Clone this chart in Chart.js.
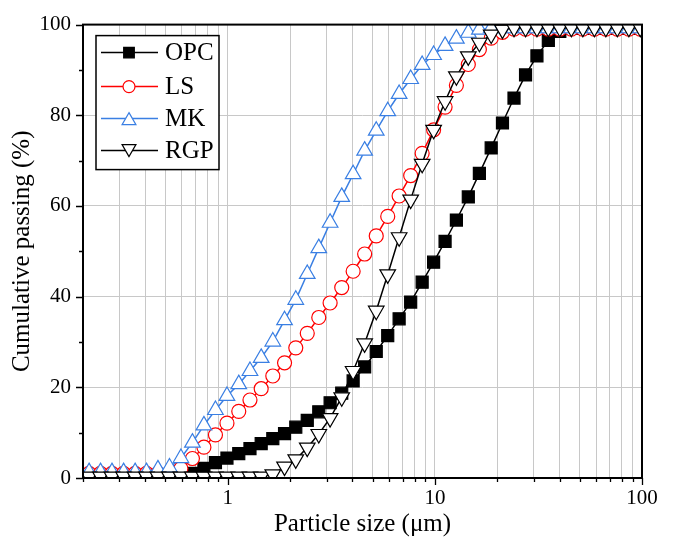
<!DOCTYPE html>
<html>
<head>
<meta charset="utf-8">
<script src="https://cdn.jsdelivr.net/npm/chart.js@4.4.1/dist/chart.umd.min.js"></script>
<style>
  body { margin: 0; background: #fff; }
  #wrap { width: 675px; height: 545px; }
</style>
</head>
<body>
<div id="wrap"><canvas id="psd" width="675" height="545"></canvas></div>
<script>
// particle size classes (um)
var sizes = [0.214, 0.243, 0.276, 0.314, 0.357, 0.405, 0.460, 0.523, 0.594, 0.675,
             0.767, 0.872, 0.991, 1.13, 1.28, 1.45, 1.65, 1.88, 2.13, 2.42,
             2.75, 3.12, 3.55, 4.03, 4.58, 5.21, 5.92, 6.72, 7.64, 8.68,
             9.86, 11.2, 12.7, 14.5, 16.4, 18.7, 21.2, 24.1, 27.4, 31.1,
             35.3, 40.1, 45.6, 51.8, 58.9, 66.9, 76.0, 86.4, 98.1];

// cumulative passing (%)
var opc = [null, null, null, null, null, null, null, null, 0.5, 1.0,
           2.1, 3.4, 4.4, 5.4, 6.5, 7.6, 8.7, 9.8, 11.2, 12.7,
           14.6, 16.6, 18.7, 21.4, 24.5, 27.9, 31.4, 35.1, 38.8, 43.2,
           47.6, 52.2, 56.9, 62.0, 67.2, 72.8, 78.3, 83.8, 88.9, 93.1,
           96.5, 98.5, 99.2, 99.2, 99.2, 99.2, 99.2, 99.2, 99.2];
var ls  = [1.0, 1.0, 1.0, 1.0, 1.0, 1.0, 1.0, 1.0, 2.1, 4.3,
           6.8, 9.5, 12.1, 14.7, 17.2, 19.7, 22.5, 25.4, 28.7, 31.9,
           35.4, 38.6, 42.0, 45.6, 49.4, 53.4, 57.7, 62.2, 66.7, 71.6,
           76.8, 81.8, 86.6, 91.2, 94.5, 97.0, 98.3, 99.0, 99.0, 99.0,
           99.0, 99.0, 99.0, 99.0, 99.0, 99.0, 99.0, 99.0, 99.0];
var mk  = [1.3, 1.3, 1.3, 1.3, 1.3, 1.3, 1.9, 2.3, 4.4, 7.8,
           11.6, 15.0, 18.1, 20.7, 23.6, 26.5, 30.1, 34.8, 39.3, 45.0,
           50.7, 56.3, 62.0, 67.0, 72.2, 76.6, 80.9, 84.7, 88.0, 91.1,
           93.3, 95.3, 96.9, 98.2, 98.9, 99.2, 99.2, 99.2, 99.2, 99.2,
           99.2, 99.2, 99.2, 99.2, 99.2, 99.2, 99.2, 99.2, 99.2];
var rgp = [0.3, 0.3, 0.3, 0.3, 0.3, 0.3, 0.3, 0.3, 0.3, 0.3,
           0.3, 0.3, 0.3, 0.3, 0.3, 0.3, 0.8, 2.5, 4.1, 6.7,
           9.7, 13.2, 17.8, 23.6, 29.7, 36.9, 44.9, 53.1, 61.4, 69.3,
           76.8, 83.1, 88.6, 93.0, 96.0, 97.8, 98.9, 99.3, 99.3, 99.3,
           99.3, 99.3, 99.3, 99.3, 99.3, 99.3, 99.3, 99.3, 99.3];

var xTicks  = [0.2, 0.3, 0.4, 0.5, 0.6, 0.7, 0.8, 0.9, 1, 2, 3, 4, 5, 6, 7, 8, 9,
               10, 20, 30, 40, 50, 60, 70, 80, 90, 100];
var xLabels = [1, 10, 100];

var serif = "'Liberation Serif', 'DejaVu Serif', serif";
var blue = '#3a7fe3';

function pts(ys) {
    return sizes.map(function(x, i) { return { x: x, y: ys[i] }; });
}

function makeSet(label, ys, color, style, radius, rot, fill, order) {
    return {
        label: label,
        data: pts(ys),
        borderColor: color,
        backgroundColor: fill,
        borderWidth: 1.5,
        pointStyle: style,
        pointRadius: radius,
        pointRotation: rot,
        pointBorderWidth: 1.2,
        pointBackgroundColor: fill,
        pointBorderColor: color,
        tension: 0,
        clip: 0,
        order: order
    };
}

var datasets = [
    makeSet('OPC', opc, '#000000', 'rect', 8.5, 0, '#000000', 4),
    makeSet('LS',  ls,  '#ff0000', 'circle', 7, 0, '#ffffff', 3),
    makeSet('MK',  mk,  blue, 'triangle', 9, 0, '#ffffff', 2),
    makeSet('RGP', rgp, '#000000', 'triangle', 9, 180, '#ffffff', 1)
];

// outward tick marks and frame
var frameTicks = {
    id: 'frameTicks',
    afterDatasetsDraw: function(chart) {
        var ctx = chart.ctx, a = chart.chartArea;
        var xs = chart.scales.x, ys = chart.scales.y;
        ctx.save();
        ctx.strokeStyle = '#000';
        ctx.lineWidth = 1.3;
        ctx.beginPath();
        xs.ticks.forEach(function(t) {
            var px = Math.round(xs.getPixelForValue(t.value)) + 0.5;
            var len = xLabels.indexOf(t.value) >= 0 ? 7 : 4;
            ctx.moveTo(px, a.bottom);
            ctx.lineTo(px, a.bottom + len);
        });
        ys.ticks.forEach(function(t) {
            var py = Math.round(ys.getPixelForValue(t.value)) + 0.5;
            var len = t.value % 20 === 0 ? 7 : 4;
            ctx.moveTo(a.left, py);
            ctx.lineTo(a.left - len, py);
        });
        ctx.stroke();
        ctx.lineWidth = 2;
        ctx.strokeRect(a.left, a.top, a.right - a.left, a.bottom - a.top);
        ctx.restore();
    }
};

// legend box with line through marker
var lineLegend = {
    id: 'lineLegend',
    afterDraw: function(chart) {
        var ctx = chart.ctx, a = chart.chartArea;
        var bx = a.left + 13, by = a.top + 11, bw = 123, bh = 134;
        var rows = [17, 51, 83, 115];
        ctx.save();
        ctx.fillStyle = '#fff';
        ctx.fillRect(bx, by, bw, bh);
        ctx.strokeStyle = '#000';
        ctx.lineWidth = 1.5;
        ctx.strokeRect(bx, by, bw, bh);
        chart.data.datasets.forEach(function(ds, i) {
            var yy = by + rows[i];
            ctx.strokeStyle = ds.borderColor;
            ctx.lineWidth = 1.5;
            ctx.beginPath();
            ctx.moveTo(bx + 5, yy);
            ctx.lineTo(bx + 62, yy);
            ctx.stroke();
            ctx.fillStyle = ds.pointBackgroundColor;
            ctx.strokeStyle = ds.pointBorderColor;
            ctx.lineWidth = 1.2;
            var off = ds.pointStyle !== 'triangle' ? 0 : (ds.pointRotation ? -2 : 2);
            Chart.helpers.drawPoint(ctx, {
                pointStyle: ds.pointStyle,
                rotation: ds.pointRotation,
                radius: ds.pointRadius - 1,
                borderWidth: 1.2
            }, bx + 33, yy + off);
            ctx.fillStyle = '#000';
            ctx.font = '25px ' + serif;
            ctx.textAlign = 'left';
            ctx.textBaseline = 'middle';
            ctx.fillText(ds.label, bx + 69, yy + 1);
        });
        ctx.restore();
    }
};

window.onload = function() {
    var ctx = document.getElementById('psd').getContext('2d');
    new Chart(ctx, {
        type: 'line',
        data: { datasets: datasets },
        options: {
            responsive: false,
            animation: false,
            devicePixelRatio: 1,
            layout: { padding: { top: 20, right: 33, left: 0, bottom: 0 } },
            plugins: {
                legend: { display: false },
                tooltip: { enabled: false }
            },
            scales: {
                x: {
                    type: 'logarithmic',
                    min: 0.2,
                    max: 100,
                    afterBuildTicks: function(s) {
                        s.ticks = xTicks.map(function(v) { return { value: v }; });
                    },
                    afterFit: function(s) { s.height = 67; },
                    border: { display: false },
                    grid: { color: '#c8c8c8', lineWidth: 1, drawTicks: false },
                    ticks: {
                        autoSkip: false,
                        maxRotation: 0,
                        padding: 8,
                        color: '#000',
                        font: { family: serif, size: 21 },
                        callback: function(v) {
                            return xLabels.indexOf(v) >= 0 ? String(v) : '';
                        }
                    },
                    title: {
                        display: true,
                        text: 'Particle size (μm)',
                        color: '#000',
                        font: { family: serif, size: 25 },
                        padding: { top: 0, bottom: 6 }
                    }
                },
                y: {
                    min: 0,
                    max: 100,
                    afterFit: function(s) { s.width = 83; },
                    border: { display: false },
                    grid: {
                        drawTicks: false,
                        lineWidth: 1,
                        color: function(c) {
                            var v = c.tick.value;
                            return (v % 20 === 0 && v > 0 && v < 100) ? '#c8c8c8' : 'rgba(0,0,0,0)';
                        }
                    },
                    ticks: {
                        stepSize: 10,
                        padding: 12,
                        color: '#000',
                        font: { family: serif, size: 21 },
                        callback: function(v) { return v % 20 === 0 ? String(v) : ''; }
                    },
                    title: {
                        display: true,
                        text: 'Cumulative passing (%)',
                        color: '#000',
                        font: { family: serif, size: 25 },
                        padding: { top: 7, bottom: 0 }
                    }
                }
            }
        },
        plugins: [frameTicks, lineLegend]
    });
};
</script>
</body>
</html>
